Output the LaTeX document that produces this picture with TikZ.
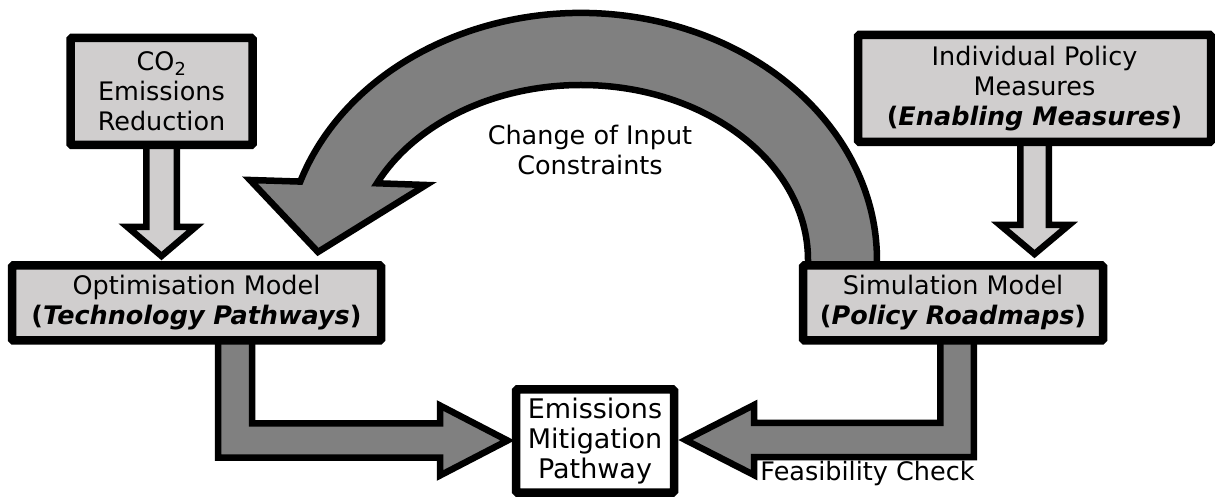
\documentclass[tikz,border=0pt]{standalone}
\usepackage{fontspec}
\setmainfont{DejaVu Sans}
\usepackage{xcolor}
\usetikzlibrary{positioning, calc, backgrounds}
\definecolor{boxgrey}{RGB}{208,206,206}
\definecolor{arrowgrey}{RGB}{128,128,128}
\newcommand{\labelfont}{\fontsize{25.5}{30}\selectfont}
\tikzstyle{inputbox} = [rectangle, rounded corners=1.5pt, minimum width=182pt, minimum height=107pt, text centered, align=center, draw=black, line width=8.5pt, fill=boxgrey, outer sep=0pt, font=\labelfont]
\tikzstyle{modelbox} = [rectangle, rounded corners=1.5pt, minimum width=300pt, minimum height=75pt, text centered, align=center, draw=black, line width=8.5pt, fill=boxgrey, outer sep=0pt, font=\labelfont]
\tikzstyle{resultbox} = [rectangle, rounded corners=1.5pt, minimum width=158pt, minimum height=103pt, text centered, align=center, draw=black, line width=8.5pt, fill=white, outer sep=0pt, font=\fontsize{27}{30}\selectfont]
\tikzstyle{note} = [align=center, font=\labelfont]
\tikzstyle{lightarrow} = [draw=black, line width=6.5pt, line join=miter, fill=boxgrey]
\tikzstyle{darkarrow} = [draw=black, line width=6.5pt, line join=miter, fill=arrowgrey]

\begin{document}
\begin{tikzpicture}[x=1pt, y=1pt, node distance=200pt]
\useasboundingbox (0,0) rectangle (1215,498);
\node (opt) [modelbox, minimum width=369pt] at (196.5,195) {Optimisation Model\\\textbf{(\textit{Technology Pathways})}};
\node (co2) [inputbox, above of=opt, xshift=-35pt, yshift=11.5pt] {CO\textsubscript{2}\\Emissions\\Reduction};
\node (emis) [resultbox, below of=opt, xshift=398.5pt, yshift=62pt] {Emissions\\Mitigation\\Pathway};
\node (sim) [modelbox, right of=opt, xshift=556.5pt] {Simulation Model\\\textbf{(\textit{Policy Roadmaps})}};
\node (indiv) [inputbox, minimum width=353pt, above of=sim, xshift=81.5pt, yshift=14.5pt] {Individual Policy\\Measures\\\textbf{(\textit{Enabling Measures})}};
\node (change) [note, above of=emis, xshift=-5pt, yshift=91pt] {Change of Input\\Constraints};
\node (feas) [note, below of=sim, xshift=-85.5pt, yshift=23pt, anchor=base] {Feasibility Check};

\begin{scope}[on background layer]
% inputs into the models
\draw [lightarrow] ($(co2.south)+(-15.25,0)$) -- ++(0,-82) -- ++(-18.75,0) -- ++(34,-29) -- ++(34,29) -- ++(-18.75,0) -- ++(0,82) -- cycle;
\draw [lightarrow] ($(indiv.south)+(-14.25,0)$) -- ++(0,-83) -- ++(-20.25,0) -- ++(34.5,-29) -- ++(34.5,29) -- ++(-20.25,0) -- ++(0,83) -- cycle;
% models into the pathway
\draw [darkarrow] ($(opt.south)+(21.5,0)$) -- ++(0,-117) -- ++(222,0) -- ++(0,-18) -- ++(67.5,35) -- ++(-67.5,35) -- ++(0,-18) -- ++(-188,0) -- ++(0,83) -- cycle;
\draw [darkarrow] ($(sim.south)+(20.75,0)$) -- ++(0,-116.5) -- ++(-219.75,0) -- ++(0,-18) -- ++(-68.5,35) -- ++(68.5,35) -- ++(0,-18) -- ++(186.25,0) -- ++(0,82.5) -- cycle;
% feedback loop
\draw [darkarrow] ($(sim.north)+(-145,0)$) -- ++(0,5.5) arc[start angle=0, end angle=154, x radius=227pt, y radius=175pt] -- ++(49,-1.7) -- ++(-108,-67) -- ++(-68,72) -- ++(50.3,-1.6) arc[start angle=161.5, end angle=0, x radius=296pt, y radius=247pt] -- ++(0,-5.5) -- cycle;
\end{scope}
\end{tikzpicture}
\end{document}
